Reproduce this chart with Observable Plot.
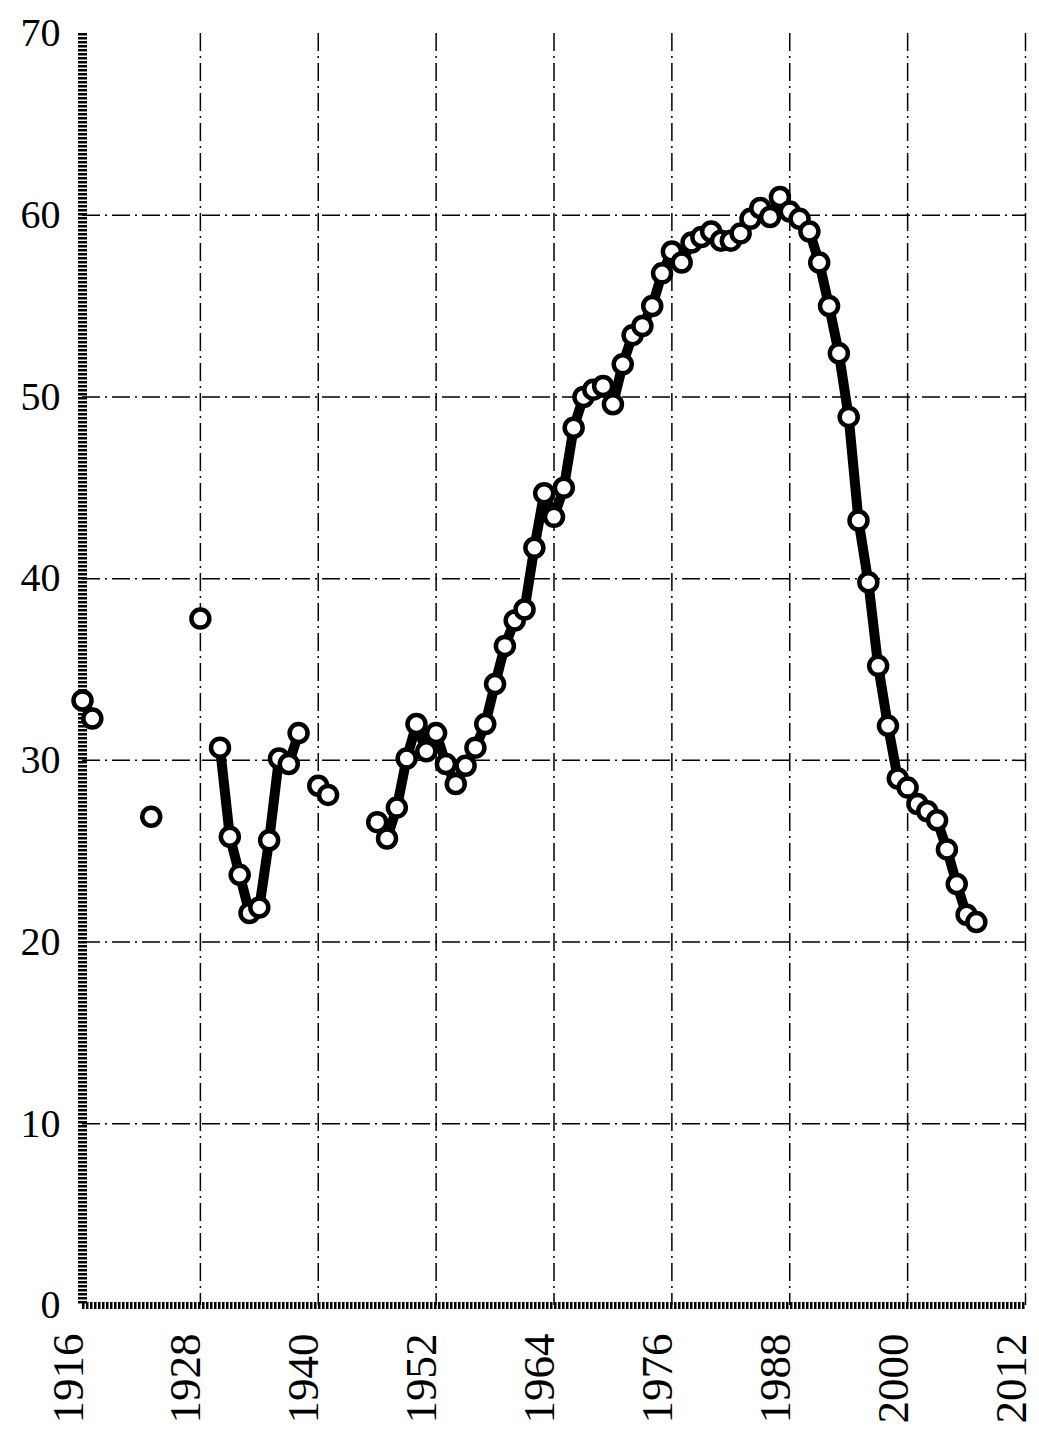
<!DOCTYPE html>
<html><head><meta charset="utf-8">
<script src="https://cdn.jsdelivr.net/npm/d3@7"></script>
<script src="https://cdn.jsdelivr.net/npm/@observablehq/plot@0.6"></script>
<style>body{margin:0;background:#fff} svg{display:block}</style>
</head><body><div id="chart"></div>
<script>
const years = [1916,1917,1923,1928,1930,1931,1932,1933,1934,1935,1936,1937,1938,1940,1941,
  1946,1947,1948,1949,1950,1951,1952,1953,1954,1955,1956,1957,1958,1959,1960,1961,1962,1963,1964,1965,1966,1967,1968,1969,
  1970,1971,1972,1973,1974,1975,1976,1977,1978,1979,1980,1981,1982,1983,1984,1985,1986,1987,1988,1989,
  1990,1991,1992,1993,1994,1995,1996,1997,1998,1999,2000,2001,2002,2003,2004,2005,2006,2007];
const values = [33.3,32.3,26.9,37.8,30.7,25.8,23.7,21.6,21.9,25.6,30.1,29.8,31.5,28.6,28.1,
  26.6,25.7,27.4,30.1,32.0,30.5,31.5,29.8,28.7,29.7,30.7,32.0,34.2,36.3,37.7,38.3,41.7,44.7,43.4,45.0,48.3,50.0,50.4,50.6,
  49.6,51.8,53.4,53.9,55.0,56.8,58.0,57.4,58.5,58.8,59.1,58.6,58.6,59.0,59.8,60.4,59.9,61.0,60.2,59.8,
  59.1,57.4,55.0,52.4,48.9,43.2,39.8,35.2,31.9,29.0,28.5,27.6,27.2,26.7,25.1,23.2,21.5,21.1];
const xTicks = [1916,1928,1940,1952,1964,1976,1988,2000,2012];
const yTicks = [0,10,20,30,40,50,60,70];
const xGrid = [1928,1940,1952,1964,1976,1988,2000,2012];
const yGrid = [10,20,30,40,50,60];

const data = years.map((year, i) => ({year, value: values[i]}));
let seg = 0;
data.forEach((d, i) => { if (i > 0 && d.year - data[i - 1].year > 1) seg++; d.seg = seg; });

const chart = Plot.plot({
  width: 1039, height: 1440,
  marginLeft: 82, marginRight: 14, marginTop: 33, marginBottom: 135,
  x: {domain: [1916, 2012], axis: null},
  y: {domain: [0, 70], axis: null},
  style: {background: "#fff", fontFamily: "'Liberation Serif', 'DejaVu Serif', serif", color: "#000"},
  marks: [
    Plot.ruleX(xGrid, {stroke: "#000", strokeWidth: 1.5, strokeDasharray: "18,5,2,5"}),
    Plot.ruleY(yGrid, {stroke: "#000", strokeWidth: 1.5, strokeDasharray: "18,5,2,5"}),
    Plot.ruleX([1916], {stroke: "#000", strokeWidth: 9, strokeDasharray: "2.5,1.5"}),
    Plot.ruleY([0], {stroke: "#000", strokeWidth: 7, strokeDasharray: "2.5,1.5"}),
    Plot.line(data, {x: "year", y: "value", z: "seg", stroke: "#000", strokeWidth: 10, strokeLinejoin: "round", strokeLinecap: "round"}),
    Plot.dot(data, {x: "year", y: "value", r: 9, fill: "#fff", stroke: "#000", strokeWidth: 4.5}),
    Plot.text(yTicks, {x: 1916, y: d => d, text: d => String(d), textAnchor: "end", dx: -22, fontSize: 40}),
    Plot.text(xTicks, {x: d => d, frameAnchor: "bottom", text: d => String(d), rotate: -90, textAnchor: "end", dy: 28, fontSize: 45})
  ]
});
document.getElementById("chart").appendChild(chart);
</script>
</body></html>
